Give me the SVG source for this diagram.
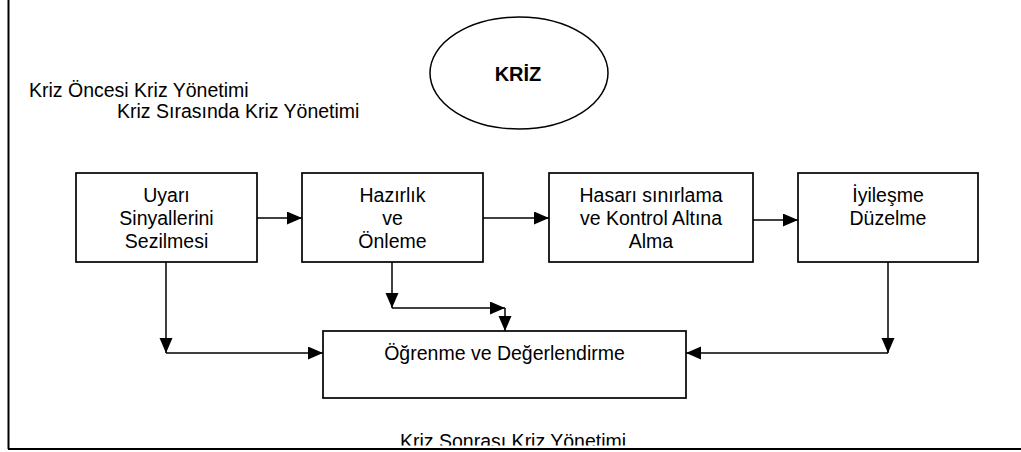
<svg xmlns="http://www.w3.org/2000/svg" width="1021" height="452" viewBox="0 0 1021 452">
<style>
text{font-family:"Liberation Sans",Arial,sans-serif;font-size:19.5px;fill:#000;}
.c{text-anchor:middle;}
.box{fill:#fff;stroke:#000;stroke-width:1.7;}
.ln{fill:none;stroke:#000;stroke-width:1.5;}
.fr{fill:none;stroke:#000;stroke-width:2;}
</style>
<defs>
<marker id="ah" markerUnits="userSpaceOnUse" markerWidth="16" markerHeight="14" refX="15" refY="6.5" orient="auto">
<path d="M0,0 L15,6.5 L0,13 z" fill="#000"/>
</marker>
<clipPath id="clipbot"><rect x="0" y="0" width="1021" height="445.5"/></clipPath>
</defs>
<rect width="1021" height="452" fill="#fff"/>
<g id="frame">
<line class="fr" x1="8.5" y1="0" x2="8.5" y2="449"/>
<line class="fr" x1="8" y1="449" x2="1021" y2="449"/>
</g>
<g id="labels">
<text x="29" y="97">Kriz Öncesi Kriz Yönetimi</text>
<text x="117" y="118">Kriz Sırasında Kriz Yönetimi</text>
<text x="400" y="448" clip-path="url(#clipbot)">Kriz Sonrası Kriz Yönetimi</text>
</g>
<g id="kriz">
<ellipse cx="519" cy="73" rx="89" ry="56" fill="#fff" stroke="#000" stroke-width="1.5"/>
<text class="c" x="518" y="81" style="font-weight:bold;font-size:20px">KRİZ</text>
</g>
<g id="uyari">
<rect class="box" x="76" y="173" width="181" height="89"/>
<text class="c" x="166.5" y="202">Uyarı</text>
<text class="c" x="166.5" y="225">Sinyallerini</text>
<text class="c" x="166.5" y="248">Sezilmesi</text>
</g>
<g id="hazirlik">
<rect class="box" x="302" y="173" width="181" height="89"/>
<text class="c" x="392.5" y="202">Hazırlık</text>
<text class="c" x="392.5" y="225">ve</text>
<text class="c" x="392.5" y="248">Önleme</text>
</g>
<g id="hasar">
<rect class="box" x="549" y="173" width="204" height="89"/>
<text class="c" x="651" y="202">Hasarı sınırlama</text>
<text class="c" x="651" y="225">ve Kontrol Altına</text>
<text class="c" x="651" y="248">Alma</text>
</g>
<g id="iyilesme">
<rect class="box" x="798" y="173" width="180" height="89"/>
<text class="c" x="888" y="202">İyileşme</text>
<text class="c" x="888" y="225">Düzelme</text>
</g>
<g id="ogrenme">
<rect class="box" x="323" y="331" width="363" height="67"/>
<text class="c" x="504.5" y="360">Öğrenme ve Değerlendirme</text>
</g>
<g id="connectors">
<line class="ln" x1="257" y1="218" x2="302" y2="218" marker-end="url(#ah)"/>
<line class="ln" x1="483" y1="218" x2="549" y2="218" marker-end="url(#ah)"/>
<line class="ln" x1="753" y1="220" x2="798" y2="220" marker-end="url(#ah)"/>
<line class="ln" x1="166" y1="262" x2="166" y2="353" marker-end="url(#ah)"/>
<line class="ln" x1="166" y1="353" x2="323" y2="353" marker-end="url(#ah)"/>
<line class="ln" x1="392" y1="262" x2="392" y2="308" marker-end="url(#ah)"/>
<line class="ln" x1="392" y1="308" x2="505" y2="308" marker-end="url(#ah)"/>
<line class="ln" x1="505" y1="308" x2="505" y2="331" marker-end="url(#ah)"/>
<line class="ln" x1="888" y1="262" x2="888" y2="353" marker-end="url(#ah)"/>
<line class="ln" x1="888" y1="353" x2="686" y2="353" marker-end="url(#ah)"/>
</g>
</svg>
